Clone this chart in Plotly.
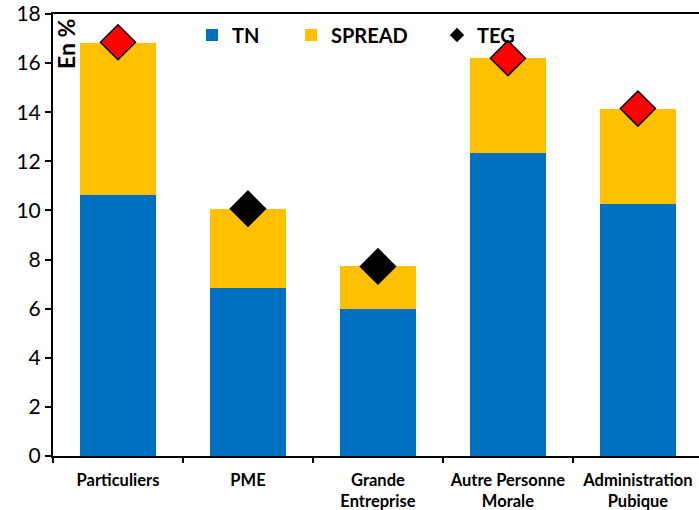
import plotly.graph_objects as go

# Taux par type de clientèle (en %)
categories = ["Particuliers", "PME", "Grande<br>Entreprise",
              "Autre Personne<br>Morale", "Administration<br>Pubique"]
tn = [10.62, 6.86, 5.97, 12.32, 10.26]
spread = [6.21, 3.20, 1.75, 3.88, 3.89]
teg = [16.85, 10.07, 7.72, 16.20, 14.15]
teg_red = [True, False, False, True, True]
y_ticks = [0, 2, 4, 6, 8, 10, 12, 14, 16, 18]

FONT = "Lato"

# plot area in pixels, used to place the legends
L, R, T, B = 53, 699, 14, 456


def px_x(p):
    return (p - L) / (R - L)


def px_y(p):
    return (B - p) / (B - T)


fig = go.Figure()
fig.add_trace(go.Bar(x=categories, y=tn, name="TN", legend="legend",
                     marker=dict(color="#0070C0", line=dict(width=0))))
fig.add_trace(go.Bar(x=categories, y=spread, name="SPREAD", legend="legend2",
                     marker=dict(color="#FFC000", line=dict(width=0))))

black_x = [c for c, r in zip(categories, teg_red) if not r]
black_y = [v for v, r in zip(teg, teg_red) if not r]
red_x = [c for c, r in zip(categories, teg_red) if r]
red_y = [v for v, r in zip(teg, teg_red) if r]

fig.add_trace(go.Scatter(x=black_x, y=black_y, mode="markers", name="TEG",
                         legendgroup="teg", showlegend=False,
                         marker=dict(symbol="diamond", size=27, color="black",
                                     line=dict(color="black", width=1.5))))
fig.add_trace(go.Scatter(x=red_x, y=red_y, mode="markers", name="TEG",
                         legendgroup="teg", showlegend=False,
                         marker=dict(symbol="diamond", size=27, color="#FF0000",
                                     line=dict(color="black", width=1.5))))
# legend key for TEG (smaller diamond than the plotted markers)
fig.add_trace(go.Scatter(x=[None], y=[None], mode="markers", name="TEG",
                         legendgroup="teg", legend="legend3",
                         marker=dict(symbol="diamond", size=11, color="black")))

legend_style = dict(orientation="h", yanchor="middle", xanchor="left",
                    y=px_y(35), font=dict(size=20, family=FONT, weight="bold"),
                    bgcolor="rgba(0,0,0,0)", itemwidth=30)

fig.update_layout(
    width=699, height=510,
    margin=dict(l=L, r=699 - R, t=T, b=510 - B),
    barmode="stack", bargap=0.42,
    plot_bgcolor="white", paper_bgcolor="white",
    font=dict(family=FONT, color="black"),
    showlegend=True,
    legend=dict(x=px_x(192), **legend_style),
    legend2=dict(x=px_x(291), **legend_style),
    legend3=dict(x=px_x(437), **legend_style),
    xaxis=dict(range=[-0.5, 4.47], showline=True, linecolor="black", linewidth=2,
               mirror=True, ticks="outside", tickson="boundaries", ticklen=5,
               tickcolor="black", tickwidth=1.5, ticklabelstandoff=8,
               tickfont=dict(size=16.5, family=FONT, weight="bold"),
               showgrid=False, fixedrange=True),
    yaxis=dict(range=[0, 18], tickvals=y_ticks, showline=True, linecolor="black",
               linewidth=2, ticks="outside", ticklen=6, tickcolor="black",
               tickwidth=1.5, tickfont=dict(size=21, family=FONT),
               showgrid=False, zeroline=False),
    annotations=[dict(text="<b>En %</b>", xref="paper", yref="paper",
                      x=px_x(66), y=px_y(17), xanchor="center", yanchor="top",
                      textangle=-90, showarrow=False,
                      font=dict(size=23, family=FONT))],
)

fig.write_html("out.html")
